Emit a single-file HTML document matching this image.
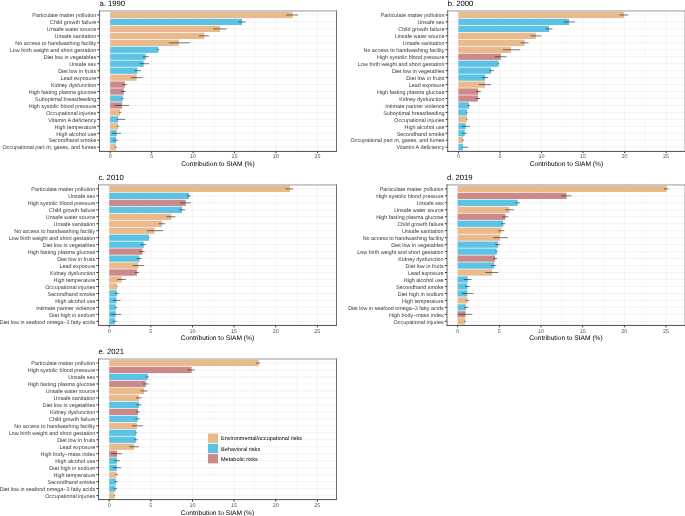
<!DOCTYPE html>
<html><head><meta charset="utf-8"><style>
html,body{margin:0;padding:0;background:#fff;width:685px;height:516px;overflow:hidden}
svg{display:block;will-change:transform}
text{font-family:"Liberation Sans", sans-serif;text-rendering:geometricPrecision}
</style></head><body>
<svg width="685" height="516" viewBox="0 0 685 516">
<rect width="685" height="516" fill="#fff"/>
<line x1="130.92" y1="10.8" x2="130.92" y2="151.4" stroke="#EBEBEB" stroke-width="0.3"/>
<line x1="172.38" y1="10.8" x2="172.38" y2="151.4" stroke="#EBEBEB" stroke-width="0.3"/>
<line x1="213.85" y1="10.8" x2="213.85" y2="151.4" stroke="#EBEBEB" stroke-width="0.3"/>
<line x1="255.32" y1="10.8" x2="255.32" y2="151.4" stroke="#EBEBEB" stroke-width="0.3"/>
<line x1="296.79" y1="10.8" x2="296.79" y2="151.4" stroke="#EBEBEB" stroke-width="0.3"/>
<line x1="110.18" y1="10.8" x2="110.18" y2="151.4" stroke="#EBEBEB" stroke-width="0.6"/>
<line x1="151.65" y1="10.8" x2="151.65" y2="151.4" stroke="#EBEBEB" stroke-width="0.6"/>
<line x1="193.12" y1="10.8" x2="193.12" y2="151.4" stroke="#EBEBEB" stroke-width="0.6"/>
<line x1="234.59" y1="10.8" x2="234.59" y2="151.4" stroke="#EBEBEB" stroke-width="0.6"/>
<line x1="276.06" y1="10.8" x2="276.06" y2="151.4" stroke="#EBEBEB" stroke-width="0.6"/>
<line x1="317.52" y1="10.8" x2="317.52" y2="151.4" stroke="#EBEBEB" stroke-width="0.6"/>
<line x1="99.4" y1="14.98" x2="336.6" y2="14.98" stroke="#EBEBEB" stroke-width="0.6"/>
<line x1="99.4" y1="21.94" x2="336.6" y2="21.94" stroke="#EBEBEB" stroke-width="0.6"/>
<line x1="99.4" y1="28.9" x2="336.6" y2="28.9" stroke="#EBEBEB" stroke-width="0.6"/>
<line x1="99.4" y1="35.86" x2="336.6" y2="35.86" stroke="#EBEBEB" stroke-width="0.6"/>
<line x1="99.4" y1="42.82" x2="336.6" y2="42.82" stroke="#EBEBEB" stroke-width="0.6"/>
<line x1="99.4" y1="49.78" x2="336.6" y2="49.78" stroke="#EBEBEB" stroke-width="0.6"/>
<line x1="99.4" y1="56.74" x2="336.6" y2="56.74" stroke="#EBEBEB" stroke-width="0.6"/>
<line x1="99.4" y1="63.7" x2="336.6" y2="63.7" stroke="#EBEBEB" stroke-width="0.6"/>
<line x1="99.4" y1="70.66" x2="336.6" y2="70.66" stroke="#EBEBEB" stroke-width="0.6"/>
<line x1="99.4" y1="77.62" x2="336.6" y2="77.62" stroke="#EBEBEB" stroke-width="0.6"/>
<line x1="99.4" y1="84.58" x2="336.6" y2="84.58" stroke="#EBEBEB" stroke-width="0.6"/>
<line x1="99.4" y1="91.54" x2="336.6" y2="91.54" stroke="#EBEBEB" stroke-width="0.6"/>
<line x1="99.4" y1="98.5" x2="336.6" y2="98.5" stroke="#EBEBEB" stroke-width="0.6"/>
<line x1="99.4" y1="105.46" x2="336.6" y2="105.46" stroke="#EBEBEB" stroke-width="0.6"/>
<line x1="99.4" y1="112.42" x2="336.6" y2="112.42" stroke="#EBEBEB" stroke-width="0.6"/>
<line x1="99.4" y1="119.38" x2="336.6" y2="119.38" stroke="#EBEBEB" stroke-width="0.6"/>
<line x1="99.4" y1="126.34" x2="336.6" y2="126.34" stroke="#EBEBEB" stroke-width="0.6"/>
<line x1="99.4" y1="133.3" x2="336.6" y2="133.3" stroke="#EBEBEB" stroke-width="0.6"/>
<line x1="99.4" y1="140.26" x2="336.6" y2="140.26" stroke="#EBEBEB" stroke-width="0.6"/>
<line x1="99.4" y1="147.22" x2="336.6" y2="147.22" stroke="#EBEBEB" stroke-width="0.6"/>
<rect x="110.18" y="11.84" width="182.46" height="6.26" fill="#E7B280" fill-opacity="0.9"/>
<rect x="110.18" y="18.8" width="131.87" height="6.26" fill="#4BBCE1" fill-opacity="0.9"/>
<rect x="110.18" y="25.76" width="109.89" height="6.26" fill="#E7B280" fill-opacity="0.9"/>
<rect x="110.18" y="32.73" width="94.13" height="6.26" fill="#E7B280" fill-opacity="0.9"/>
<rect x="110.18" y="39.69" width="68.67" height="6.26" fill="#E7B280" fill-opacity="0.9"/>
<rect x="110.18" y="46.65" width="48.19" height="6.26" fill="#4BBCE1" fill-opacity="0.9"/>
<rect x="110.18" y="53.61" width="35.58" height="6.26" fill="#4BBCE1" fill-opacity="0.9"/>
<rect x="110.18" y="60.57" width="33.51" height="6.26" fill="#4BBCE1" fill-opacity="0.9"/>
<rect x="110.18" y="67.53" width="27.2" height="6.26" fill="#4BBCE1" fill-opacity="0.9"/>
<rect x="110.18" y="74.49" width="26.54" height="6.26" fill="#E7B280" fill-opacity="0.9"/>
<rect x="110.18" y="81.45" width="14.6" height="6.26" fill="#C77C7D" fill-opacity="0.9"/>
<rect x="110.18" y="88.41" width="13.6" height="6.26" fill="#C77C7D" fill-opacity="0.9"/>
<rect x="110.18" y="95.37" width="12.52" height="6.26" fill="#4BBCE1" fill-opacity="0.9"/>
<rect x="110.18" y="102.33" width="11.86" height="6.26" fill="#C77C7D" fill-opacity="0.9"/>
<rect x="110.18" y="109.29" width="9.95" height="6.26" fill="#E7B280" fill-opacity="0.9"/>
<rect x="110.18" y="116.25" width="7.96" height="6.26" fill="#4BBCE1" fill-opacity="0.9"/>
<rect x="110.18" y="123.21" width="7.8" height="6.26" fill="#E7B280" fill-opacity="0.9"/>
<rect x="110.18" y="130.17" width="6.47" height="6.26" fill="#4BBCE1" fill-opacity="0.9"/>
<rect x="110.18" y="137.13" width="5.89" height="6.26" fill="#4BBCE1" fill-opacity="0.9"/>
<rect x="110.18" y="144.09" width="5.72" height="6.26" fill="#E7B280" fill-opacity="0.9"/>
<line x1="286.01" y1="14.98" x2="298.03" y2="14.98" stroke="#222" stroke-width="0.6"/>
<line x1="237.9" y1="21.94" x2="245.78" y2="21.94" stroke="#222" stroke-width="0.6"/>
<line x1="213.02" y1="28.9" x2="226.71" y2="28.9" stroke="#222" stroke-width="0.6"/>
<line x1="198.92" y1="35.86" x2="208.88" y2="35.86" stroke="#222" stroke-width="0.6"/>
<line x1="168.82" y1="42.82" x2="189.8" y2="42.82" stroke="#222" stroke-width="0.6"/>
<line x1="157.04" y1="49.78" x2="158.87" y2="49.78" stroke="#222" stroke-width="0.6"/>
<line x1="143.02" y1="56.74" x2="148.83" y2="56.74" stroke="#222" stroke-width="0.6"/>
<line x1="139.62" y1="63.7" x2="148.83" y2="63.7" stroke="#222" stroke-width="0.6"/>
<line x1="134.48" y1="70.66" x2="140.79" y2="70.66" stroke="#222" stroke-width="0.6"/>
<line x1="131.25" y1="77.62" x2="142.53" y2="77.62" stroke="#222" stroke-width="0.6"/>
<line x1="122.21" y1="84.58" x2="127.02" y2="84.58" stroke="#222" stroke-width="0.6"/>
<line x1="120.8" y1="91.54" x2="125.94" y2="91.54" stroke="#222" stroke-width="0.6"/>
<line x1="121.46" y1="98.5" x2="123.37" y2="98.5" stroke="#222" stroke-width="0.6"/>
<line x1="114.49" y1="105.46" x2="129.01" y2="105.46" stroke="#222" stroke-width="0.6"/>
<line x1="119.14" y1="112.42" x2="121.13" y2="112.42" stroke="#222" stroke-width="0.6"/>
<line x1="116.9" y1="119.38" x2="125.36" y2="119.38" stroke="#222" stroke-width="0.6"/>
<line x1="116.9" y1="126.34" x2="119.14" y2="126.34" stroke="#222" stroke-width="0.6"/>
<line x1="111.84" y1="133.3" x2="121.21" y2="133.3" stroke="#222" stroke-width="0.6"/>
<line x1="113.17" y1="140.26" x2="118.14" y2="140.26" stroke="#222" stroke-width="0.6"/>
<line x1="114.83" y1="147.22" x2="116.82" y2="147.22" stroke="#222" stroke-width="0.6"/>
<line x1="99.05" y1="10.95" x2="337" y2="10.95" stroke="#9A9A9A" stroke-width="1"/>
<line x1="336.5" y1="10.45" x2="336.5" y2="151.9" stroke="#707070" stroke-width="1"/>
<line x1="99.55" y1="10.45" x2="99.55" y2="151.9" stroke="#646464" stroke-width="1"/>
<line x1="99.05" y1="151.4" x2="337" y2="151.4" stroke="#4E4E4E" stroke-width="1"/>
<line x1="97.4" y1="14.98" x2="99.4" y2="14.98" stroke="#333333" stroke-width="1"/>
<text x="96.2" y="17.18" text-anchor="end" font-size="5.4" fill="#363636">Particulate matter pollution</text>
<line x1="97.4" y1="21.94" x2="99.4" y2="21.94" stroke="#333333" stroke-width="1"/>
<text x="96.2" y="24.14" text-anchor="end" font-size="5.4" fill="#363636">Child growth failure</text>
<line x1="97.4" y1="28.9" x2="99.4" y2="28.9" stroke="#333333" stroke-width="1"/>
<text x="96.2" y="31.1" text-anchor="end" font-size="5.4" fill="#363636">Unsafe water source</text>
<line x1="97.4" y1="35.86" x2="99.4" y2="35.86" stroke="#333333" stroke-width="1"/>
<text x="96.2" y="38.06" text-anchor="end" font-size="5.4" fill="#363636">Unsafe sanitation</text>
<line x1="97.4" y1="42.82" x2="99.4" y2="42.82" stroke="#333333" stroke-width="1"/>
<text x="96.2" y="45.02" text-anchor="end" font-size="5.4" fill="#363636">No access to handwashing facility</text>
<line x1="97.4" y1="49.78" x2="99.4" y2="49.78" stroke="#333333" stroke-width="1"/>
<text x="96.2" y="51.98" text-anchor="end" font-size="5.4" fill="#363636">Low birth weight and short gestation</text>
<line x1="97.4" y1="56.74" x2="99.4" y2="56.74" stroke="#333333" stroke-width="1"/>
<text x="96.2" y="58.94" text-anchor="end" font-size="5.4" fill="#363636">Diet low in vegetables</text>
<line x1="97.4" y1="63.7" x2="99.4" y2="63.7" stroke="#333333" stroke-width="1"/>
<text x="96.2" y="65.9" text-anchor="end" font-size="5.4" fill="#363636">Unsafe sex</text>
<line x1="97.4" y1="70.66" x2="99.4" y2="70.66" stroke="#333333" stroke-width="1"/>
<text x="96.2" y="72.86" text-anchor="end" font-size="5.4" fill="#363636">Diet low in fruits</text>
<line x1="97.4" y1="77.62" x2="99.4" y2="77.62" stroke="#333333" stroke-width="1"/>
<text x="96.2" y="79.82" text-anchor="end" font-size="5.4" fill="#363636">Lead exposure</text>
<line x1="97.4" y1="84.58" x2="99.4" y2="84.58" stroke="#333333" stroke-width="1"/>
<text x="96.2" y="86.78" text-anchor="end" font-size="5.4" fill="#363636">Kidney dysfunction</text>
<line x1="97.4" y1="91.54" x2="99.4" y2="91.54" stroke="#333333" stroke-width="1"/>
<text x="96.2" y="93.74" text-anchor="end" font-size="5.4" fill="#363636">High fasting plasma glucose</text>
<line x1="97.4" y1="98.5" x2="99.4" y2="98.5" stroke="#333333" stroke-width="1"/>
<text x="96.2" y="100.7" text-anchor="end" font-size="5.4" fill="#363636">Suboptimal breastfeeding</text>
<line x1="97.4" y1="105.46" x2="99.4" y2="105.46" stroke="#333333" stroke-width="1"/>
<text x="96.2" y="107.66" text-anchor="end" font-size="5.4" fill="#363636">High systolic blood pressure</text>
<line x1="97.4" y1="112.42" x2="99.4" y2="112.42" stroke="#333333" stroke-width="1"/>
<text x="96.2" y="114.62" text-anchor="end" font-size="5.4" fill="#363636">Occupational injuries</text>
<line x1="97.4" y1="119.38" x2="99.4" y2="119.38" stroke="#333333" stroke-width="1"/>
<text x="96.2" y="121.58" text-anchor="end" font-size="5.4" fill="#363636">Vitamin A deficiency</text>
<line x1="97.4" y1="126.34" x2="99.4" y2="126.34" stroke="#333333" stroke-width="1"/>
<text x="96.2" y="128.54" text-anchor="end" font-size="5.4" fill="#363636">High temperature</text>
<line x1="97.4" y1="133.3" x2="99.4" y2="133.3" stroke="#333333" stroke-width="1"/>
<text x="96.2" y="135.5" text-anchor="end" font-size="5.4" fill="#363636">High alcohol use</text>
<line x1="97.4" y1="140.26" x2="99.4" y2="140.26" stroke="#333333" stroke-width="1"/>
<text x="96.2" y="142.46" text-anchor="end" font-size="5.4" fill="#363636">Secondhand smoke</text>
<line x1="97.4" y1="147.22" x2="99.4" y2="147.22" stroke="#333333" stroke-width="1"/>
<text x="96.2" y="149.42" text-anchor="end" font-size="5.4" fill="#363636">Occupational part m, gases, and fumes</text>
<line x1="110.18" y1="151.4" x2="110.18" y2="153.2" stroke="#333333" stroke-width="1"/>
<text x="110.18" y="158.4" text-anchor="middle" font-size="5.4" fill="#4D4D4D">0</text>
<line x1="151.65" y1="151.4" x2="151.65" y2="153.2" stroke="#333333" stroke-width="1"/>
<text x="151.65" y="158.4" text-anchor="middle" font-size="5.4" fill="#4D4D4D">5</text>
<line x1="193.12" y1="151.4" x2="193.12" y2="153.2" stroke="#333333" stroke-width="1"/>
<text x="193.12" y="158.4" text-anchor="middle" font-size="5.4" fill="#4D4D4D">10</text>
<line x1="234.59" y1="151.4" x2="234.59" y2="153.2" stroke="#333333" stroke-width="1"/>
<text x="234.59" y="158.4" text-anchor="middle" font-size="5.4" fill="#4D4D4D">15</text>
<line x1="276.06" y1="151.4" x2="276.06" y2="153.2" stroke="#333333" stroke-width="1"/>
<text x="276.06" y="158.4" text-anchor="middle" font-size="5.4" fill="#4D4D4D">20</text>
<line x1="317.52" y1="151.4" x2="317.52" y2="153.2" stroke="#333333" stroke-width="1"/>
<text x="317.52" y="158.4" text-anchor="middle" font-size="5.4" fill="#4D4D4D">25</text>
<text x="218" y="166.3" text-anchor="middle" font-size="6.65" fill="#000">Contribution to SIAM (%)</text>
<text x="99.5" y="5.9" font-size="7.7" fill="#000">a. 1990</text>
<line x1="479.17" y1="10.8" x2="479.17" y2="151.4" stroke="#EBEBEB" stroke-width="0.3"/>
<line x1="520.71" y1="10.8" x2="520.71" y2="151.4" stroke="#EBEBEB" stroke-width="0.3"/>
<line x1="562.25" y1="10.8" x2="562.25" y2="151.4" stroke="#EBEBEB" stroke-width="0.3"/>
<line x1="603.78" y1="10.8" x2="603.78" y2="151.4" stroke="#EBEBEB" stroke-width="0.3"/>
<line x1="645.32" y1="10.8" x2="645.32" y2="151.4" stroke="#EBEBEB" stroke-width="0.3"/>
<line x1="458.4" y1="10.8" x2="458.4" y2="151.4" stroke="#EBEBEB" stroke-width="0.6"/>
<line x1="499.94" y1="10.8" x2="499.94" y2="151.4" stroke="#EBEBEB" stroke-width="0.6"/>
<line x1="541.48" y1="10.8" x2="541.48" y2="151.4" stroke="#EBEBEB" stroke-width="0.6"/>
<line x1="583.02" y1="10.8" x2="583.02" y2="151.4" stroke="#EBEBEB" stroke-width="0.6"/>
<line x1="624.55" y1="10.8" x2="624.55" y2="151.4" stroke="#EBEBEB" stroke-width="0.6"/>
<line x1="666.09" y1="10.8" x2="666.09" y2="151.4" stroke="#EBEBEB" stroke-width="0.6"/>
<line x1="447.6" y1="14.98" x2="685.2" y2="14.98" stroke="#EBEBEB" stroke-width="0.6"/>
<line x1="447.6" y1="21.94" x2="685.2" y2="21.94" stroke="#EBEBEB" stroke-width="0.6"/>
<line x1="447.6" y1="28.9" x2="685.2" y2="28.9" stroke="#EBEBEB" stroke-width="0.6"/>
<line x1="447.6" y1="35.86" x2="685.2" y2="35.86" stroke="#EBEBEB" stroke-width="0.6"/>
<line x1="447.6" y1="42.82" x2="685.2" y2="42.82" stroke="#EBEBEB" stroke-width="0.6"/>
<line x1="447.6" y1="49.78" x2="685.2" y2="49.78" stroke="#EBEBEB" stroke-width="0.6"/>
<line x1="447.6" y1="56.74" x2="685.2" y2="56.74" stroke="#EBEBEB" stroke-width="0.6"/>
<line x1="447.6" y1="63.7" x2="685.2" y2="63.7" stroke="#EBEBEB" stroke-width="0.6"/>
<line x1="447.6" y1="70.66" x2="685.2" y2="70.66" stroke="#EBEBEB" stroke-width="0.6"/>
<line x1="447.6" y1="77.62" x2="685.2" y2="77.62" stroke="#EBEBEB" stroke-width="0.6"/>
<line x1="447.6" y1="84.58" x2="685.2" y2="84.58" stroke="#EBEBEB" stroke-width="0.6"/>
<line x1="447.6" y1="91.54" x2="685.2" y2="91.54" stroke="#EBEBEB" stroke-width="0.6"/>
<line x1="447.6" y1="98.5" x2="685.2" y2="98.5" stroke="#EBEBEB" stroke-width="0.6"/>
<line x1="447.6" y1="105.46" x2="685.2" y2="105.46" stroke="#EBEBEB" stroke-width="0.6"/>
<line x1="447.6" y1="112.42" x2="685.2" y2="112.42" stroke="#EBEBEB" stroke-width="0.6"/>
<line x1="447.6" y1="119.38" x2="685.2" y2="119.38" stroke="#EBEBEB" stroke-width="0.6"/>
<line x1="447.6" y1="126.34" x2="685.2" y2="126.34" stroke="#EBEBEB" stroke-width="0.6"/>
<line x1="447.6" y1="133.3" x2="685.2" y2="133.3" stroke="#EBEBEB" stroke-width="0.6"/>
<line x1="447.6" y1="140.26" x2="685.2" y2="140.26" stroke="#EBEBEB" stroke-width="0.6"/>
<line x1="447.6" y1="147.22" x2="685.2" y2="147.22" stroke="#EBEBEB" stroke-width="0.6"/>
<rect x="458.4" y="11.84" width="165.66" height="6.26" fill="#E7B280" fill-opacity="0.9"/>
<rect x="458.4" y="18.8" width="110.66" height="6.26" fill="#4BBCE1" fill-opacity="0.9"/>
<rect x="458.4" y="25.76" width="90.64" height="6.26" fill="#4BBCE1" fill-opacity="0.9"/>
<rect x="458.4" y="32.73" width="77.51" height="6.26" fill="#E7B280" fill-opacity="0.9"/>
<rect x="458.4" y="39.69" width="66.21" height="6.26" fill="#E7B280" fill-opacity="0.9"/>
<rect x="458.4" y="46.65" width="52.5" height="6.26" fill="#E7B280" fill-opacity="0.9"/>
<rect x="458.4" y="53.61" width="42.45" height="6.26" fill="#C77C7D" fill-opacity="0.9"/>
<rect x="458.4" y="60.57" width="40.21" height="6.26" fill="#4BBCE1" fill-opacity="0.9"/>
<rect x="458.4" y="67.53" width="32.73" height="6.26" fill="#4BBCE1" fill-opacity="0.9"/>
<rect x="458.4" y="74.49" width="26.75" height="6.26" fill="#4BBCE1" fill-opacity="0.9"/>
<rect x="458.4" y="81.45" width="26.75" height="6.26" fill="#E7B280" fill-opacity="0.9"/>
<rect x="458.4" y="88.41" width="19.86" height="6.26" fill="#C77C7D" fill-opacity="0.9"/>
<rect x="458.4" y="95.37" width="19.52" height="6.26" fill="#C77C7D" fill-opacity="0.9"/>
<rect x="458.4" y="102.33" width="10.47" height="6.26" fill="#4BBCE1" fill-opacity="0.9"/>
<rect x="458.4" y="109.29" width="8.64" height="6.26" fill="#4BBCE1" fill-opacity="0.9"/>
<rect x="458.4" y="116.25" width="8.47" height="6.26" fill="#E7B280" fill-opacity="0.9"/>
<rect x="458.4" y="123.21" width="7.31" height="6.26" fill="#4BBCE1" fill-opacity="0.9"/>
<rect x="458.4" y="130.17" width="6.31" height="6.26" fill="#4BBCE1" fill-opacity="0.9"/>
<rect x="458.4" y="137.13" width="4.57" height="6.26" fill="#E7B280" fill-opacity="0.9"/>
<rect x="458.4" y="144.09" width="4.49" height="6.26" fill="#4BBCE1" fill-opacity="0.9"/>
<line x1="619.57" y1="14.98" x2="628.29" y2="14.98" stroke="#222" stroke-width="0.6"/>
<line x1="563.58" y1="21.94" x2="574.87" y2="21.94" stroke="#222" stroke-width="0.6"/>
<line x1="545.63" y1="28.9" x2="552.44" y2="28.9" stroke="#222" stroke-width="0.6"/>
<line x1="530.43" y1="35.86" x2="541.14" y2="35.86" stroke="#222" stroke-width="0.6"/>
<line x1="520.62" y1="42.82" x2="528.52" y2="42.82" stroke="#222" stroke-width="0.6"/>
<line x1="503.01" y1="49.78" x2="520.13" y2="49.78" stroke="#222" stroke-width="0.6"/>
<line x1="494.87" y1="56.74" x2="506.5" y2="56.74" stroke="#222" stroke-width="0.6"/>
<line x1="497.86" y1="63.7" x2="499.11" y2="63.7" stroke="#222" stroke-width="0.6"/>
<line x1="489.06" y1="70.66" x2="494.04" y2="70.66" stroke="#222" stroke-width="0.6"/>
<line x1="481.91" y1="77.62" x2="488.06" y2="77.62" stroke="#222" stroke-width="0.6"/>
<line x1="478.92" y1="84.58" x2="490.88" y2="84.58" stroke="#222" stroke-width="0.6"/>
<line x1="476.1" y1="91.54" x2="480.83" y2="91.54" stroke="#222" stroke-width="0.6"/>
<line x1="475.76" y1="98.5" x2="480" y2="98.5" stroke="#222" stroke-width="0.6"/>
<line x1="467.46" y1="105.46" x2="470.03" y2="105.46" stroke="#222" stroke-width="0.6"/>
<line x1="466.21" y1="112.42" x2="467.62" y2="112.42" stroke="#222" stroke-width="0.6"/>
<line x1="466.04" y1="119.38" x2="467.29" y2="119.38" stroke="#222" stroke-width="0.6"/>
<line x1="461.72" y1="126.34" x2="470.03" y2="126.34" stroke="#222" stroke-width="0.6"/>
<line x1="462.39" y1="133.3" x2="466.87" y2="133.3" stroke="#222" stroke-width="0.6"/>
<line x1="462.14" y1="140.26" x2="463.88" y2="140.26" stroke="#222" stroke-width="0.6"/>
<line x1="461.72" y1="147.22" x2="468.2" y2="147.22" stroke="#222" stroke-width="0.6"/>
<line x1="447.2" y1="10.95" x2="685.7" y2="10.95" stroke="#9A9A9A" stroke-width="1"/>
<line x1="685.2" y1="10.45" x2="685.2" y2="151.9" stroke="#707070" stroke-width="1"/>
<line x1="447.7" y1="10.45" x2="447.7" y2="151.9" stroke="#646464" stroke-width="1"/>
<line x1="447.2" y1="151.4" x2="685.7" y2="151.4" stroke="#4E4E4E" stroke-width="1"/>
<line x1="445.6" y1="14.98" x2="447.6" y2="14.98" stroke="#333333" stroke-width="1"/>
<text x="444.4" y="17.18" text-anchor="end" font-size="5.4" fill="#363636">Particulate matter pollution</text>
<line x1="445.6" y1="21.94" x2="447.6" y2="21.94" stroke="#333333" stroke-width="1"/>
<text x="444.4" y="24.14" text-anchor="end" font-size="5.4" fill="#363636">Unsafe sex</text>
<line x1="445.6" y1="28.9" x2="447.6" y2="28.9" stroke="#333333" stroke-width="1"/>
<text x="444.4" y="31.1" text-anchor="end" font-size="5.4" fill="#363636">Child growth failure</text>
<line x1="445.6" y1="35.86" x2="447.6" y2="35.86" stroke="#333333" stroke-width="1"/>
<text x="444.4" y="38.06" text-anchor="end" font-size="5.4" fill="#363636">Unsafe water source</text>
<line x1="445.6" y1="42.82" x2="447.6" y2="42.82" stroke="#333333" stroke-width="1"/>
<text x="444.4" y="45.02" text-anchor="end" font-size="5.4" fill="#363636">Unsafe sanitation</text>
<line x1="445.6" y1="49.78" x2="447.6" y2="49.78" stroke="#333333" stroke-width="1"/>
<text x="444.4" y="51.98" text-anchor="end" font-size="5.4" fill="#363636">No access to handwashing facility</text>
<line x1="445.6" y1="56.74" x2="447.6" y2="56.74" stroke="#333333" stroke-width="1"/>
<text x="444.4" y="58.94" text-anchor="end" font-size="5.4" fill="#363636">High systolic blood pressure</text>
<line x1="445.6" y1="63.7" x2="447.6" y2="63.7" stroke="#333333" stroke-width="1"/>
<text x="444.4" y="65.9" text-anchor="end" font-size="5.4" fill="#363636">Low birth weight and short gestation</text>
<line x1="445.6" y1="70.66" x2="447.6" y2="70.66" stroke="#333333" stroke-width="1"/>
<text x="444.4" y="72.86" text-anchor="end" font-size="5.4" fill="#363636">Diet low in vegetables</text>
<line x1="445.6" y1="77.62" x2="447.6" y2="77.62" stroke="#333333" stroke-width="1"/>
<text x="444.4" y="79.82" text-anchor="end" font-size="5.4" fill="#363636">Diet low in fruits</text>
<line x1="445.6" y1="84.58" x2="447.6" y2="84.58" stroke="#333333" stroke-width="1"/>
<text x="444.4" y="86.78" text-anchor="end" font-size="5.4" fill="#363636">Lead exposure</text>
<line x1="445.6" y1="91.54" x2="447.6" y2="91.54" stroke="#333333" stroke-width="1"/>
<text x="444.4" y="93.74" text-anchor="end" font-size="5.4" fill="#363636">High fasting plasma glucose</text>
<line x1="445.6" y1="98.5" x2="447.6" y2="98.5" stroke="#333333" stroke-width="1"/>
<text x="444.4" y="100.7" text-anchor="end" font-size="5.4" fill="#363636">Kidney dysfunction</text>
<line x1="445.6" y1="105.46" x2="447.6" y2="105.46" stroke="#333333" stroke-width="1"/>
<text x="444.4" y="107.66" text-anchor="end" font-size="5.4" fill="#363636">Intimate partner violence</text>
<line x1="445.6" y1="112.42" x2="447.6" y2="112.42" stroke="#333333" stroke-width="1"/>
<text x="444.4" y="114.62" text-anchor="end" font-size="5.4" fill="#363636">Suboptimal breastfeeding</text>
<line x1="445.6" y1="119.38" x2="447.6" y2="119.38" stroke="#333333" stroke-width="1"/>
<text x="444.4" y="121.58" text-anchor="end" font-size="5.4" fill="#363636">Occupational injuries</text>
<line x1="445.6" y1="126.34" x2="447.6" y2="126.34" stroke="#333333" stroke-width="1"/>
<text x="444.4" y="128.54" text-anchor="end" font-size="5.4" fill="#363636">High alcohol use</text>
<line x1="445.6" y1="133.3" x2="447.6" y2="133.3" stroke="#333333" stroke-width="1"/>
<text x="444.4" y="135.5" text-anchor="end" font-size="5.4" fill="#363636">Secondhand smoke</text>
<line x1="445.6" y1="140.26" x2="447.6" y2="140.26" stroke="#333333" stroke-width="1"/>
<text x="444.4" y="142.46" text-anchor="end" font-size="5.4" fill="#363636">Occupational part m, gases, and fumes</text>
<line x1="445.6" y1="147.22" x2="447.6" y2="147.22" stroke="#333333" stroke-width="1"/>
<text x="444.4" y="149.42" text-anchor="end" font-size="5.4" fill="#363636">Vitamin A deficiency</text>
<line x1="458.4" y1="151.4" x2="458.4" y2="153.2" stroke="#333333" stroke-width="1"/>
<text x="458.4" y="158.4" text-anchor="middle" font-size="5.4" fill="#4D4D4D">0</text>
<line x1="499.94" y1="151.4" x2="499.94" y2="153.2" stroke="#333333" stroke-width="1"/>
<text x="499.94" y="158.4" text-anchor="middle" font-size="5.4" fill="#4D4D4D">5</text>
<line x1="541.48" y1="151.4" x2="541.48" y2="153.2" stroke="#333333" stroke-width="1"/>
<text x="541.48" y="158.4" text-anchor="middle" font-size="5.4" fill="#4D4D4D">10</text>
<line x1="583.02" y1="151.4" x2="583.02" y2="153.2" stroke="#333333" stroke-width="1"/>
<text x="583.02" y="158.4" text-anchor="middle" font-size="5.4" fill="#4D4D4D">15</text>
<line x1="624.55" y1="151.4" x2="624.55" y2="153.2" stroke="#333333" stroke-width="1"/>
<text x="624.55" y="158.4" text-anchor="middle" font-size="5.4" fill="#4D4D4D">20</text>
<line x1="666.09" y1="151.4" x2="666.09" y2="153.2" stroke="#333333" stroke-width="1"/>
<text x="666.09" y="158.4" text-anchor="middle" font-size="5.4" fill="#4D4D4D">25</text>
<text x="566.4" y="166.3" text-anchor="middle" font-size="6.65" fill="#000">Contribution to SIAM (%)</text>
<text x="447.7" y="5.9" font-size="7.7" fill="#000">b. 2000</text>
<line x1="130.04" y1="184.7" x2="130.04" y2="325.5" stroke="#EBEBEB" stroke-width="0.3"/>
<line x1="171.66" y1="184.7" x2="171.66" y2="325.5" stroke="#EBEBEB" stroke-width="0.3"/>
<line x1="213.29" y1="184.7" x2="213.29" y2="325.5" stroke="#EBEBEB" stroke-width="0.3"/>
<line x1="254.91" y1="184.7" x2="254.91" y2="325.5" stroke="#EBEBEB" stroke-width="0.3"/>
<line x1="296.54" y1="184.7" x2="296.54" y2="325.5" stroke="#EBEBEB" stroke-width="0.3"/>
<line x1="109.22" y1="184.7" x2="109.22" y2="325.5" stroke="#EBEBEB" stroke-width="0.6"/>
<line x1="150.85" y1="184.7" x2="150.85" y2="325.5" stroke="#EBEBEB" stroke-width="0.6"/>
<line x1="192.47" y1="184.7" x2="192.47" y2="325.5" stroke="#EBEBEB" stroke-width="0.6"/>
<line x1="234.1" y1="184.7" x2="234.1" y2="325.5" stroke="#EBEBEB" stroke-width="0.6"/>
<line x1="275.73" y1="184.7" x2="275.73" y2="325.5" stroke="#EBEBEB" stroke-width="0.6"/>
<line x1="317.35" y1="184.7" x2="317.35" y2="325.5" stroke="#EBEBEB" stroke-width="0.6"/>
<line x1="98.4" y1="188.88" x2="336.5" y2="188.88" stroke="#EBEBEB" stroke-width="0.6"/>
<line x1="98.4" y1="195.85" x2="336.5" y2="195.85" stroke="#EBEBEB" stroke-width="0.6"/>
<line x1="98.4" y1="202.82" x2="336.5" y2="202.82" stroke="#EBEBEB" stroke-width="0.6"/>
<line x1="98.4" y1="209.79" x2="336.5" y2="209.79" stroke="#EBEBEB" stroke-width="0.6"/>
<line x1="98.4" y1="216.76" x2="336.5" y2="216.76" stroke="#EBEBEB" stroke-width="0.6"/>
<line x1="98.4" y1="223.73" x2="336.5" y2="223.73" stroke="#EBEBEB" stroke-width="0.6"/>
<line x1="98.4" y1="230.7" x2="336.5" y2="230.7" stroke="#EBEBEB" stroke-width="0.6"/>
<line x1="98.4" y1="237.67" x2="336.5" y2="237.67" stroke="#EBEBEB" stroke-width="0.6"/>
<line x1="98.4" y1="244.64" x2="336.5" y2="244.64" stroke="#EBEBEB" stroke-width="0.6"/>
<line x1="98.4" y1="251.61" x2="336.5" y2="251.61" stroke="#EBEBEB" stroke-width="0.6"/>
<line x1="98.4" y1="258.59" x2="336.5" y2="258.59" stroke="#EBEBEB" stroke-width="0.6"/>
<line x1="98.4" y1="265.56" x2="336.5" y2="265.56" stroke="#EBEBEB" stroke-width="0.6"/>
<line x1="98.4" y1="272.53" x2="336.5" y2="272.53" stroke="#EBEBEB" stroke-width="0.6"/>
<line x1="98.4" y1="279.5" x2="336.5" y2="279.5" stroke="#EBEBEB" stroke-width="0.6"/>
<line x1="98.4" y1="286.47" x2="336.5" y2="286.47" stroke="#EBEBEB" stroke-width="0.6"/>
<line x1="98.4" y1="293.44" x2="336.5" y2="293.44" stroke="#EBEBEB" stroke-width="0.6"/>
<line x1="98.4" y1="300.41" x2="336.5" y2="300.41" stroke="#EBEBEB" stroke-width="0.6"/>
<line x1="98.4" y1="307.38" x2="336.5" y2="307.38" stroke="#EBEBEB" stroke-width="0.6"/>
<line x1="98.4" y1="314.35" x2="336.5" y2="314.35" stroke="#EBEBEB" stroke-width="0.6"/>
<line x1="98.4" y1="321.32" x2="336.5" y2="321.32" stroke="#EBEBEB" stroke-width="0.6"/>
<rect x="109.22" y="185.75" width="180.66" height="6.27" fill="#E7B280" fill-opacity="0.9"/>
<rect x="109.22" y="192.72" width="79.92" height="6.27" fill="#4BBCE1" fill-opacity="0.9"/>
<rect x="109.22" y="199.69" width="76.51" height="6.27" fill="#C77C7D" fill-opacity="0.9"/>
<rect x="109.22" y="206.66" width="72.85" height="6.27" fill="#4BBCE1" fill-opacity="0.9"/>
<rect x="109.22" y="213.63" width="62.11" height="6.27" fill="#E7B280" fill-opacity="0.9"/>
<rect x="109.22" y="220.6" width="52.86" height="6.27" fill="#E7B280" fill-opacity="0.9"/>
<rect x="109.22" y="227.57" width="45.21" height="6.27" fill="#E7B280" fill-opacity="0.9"/>
<rect x="109.22" y="234.54" width="39.71" height="6.27" fill="#4BBCE1" fill-opacity="0.9"/>
<rect x="109.22" y="241.51" width="34.55" height="6.27" fill="#4BBCE1" fill-opacity="0.9"/>
<rect x="109.22" y="248.48" width="33.13" height="6.27" fill="#C77C7D" fill-opacity="0.9"/>
<rect x="109.22" y="255.45" width="30.3" height="6.27" fill="#4BBCE1" fill-opacity="0.9"/>
<rect x="109.22" y="262.42" width="29.14" height="6.27" fill="#E7B280" fill-opacity="0.9"/>
<rect x="109.22" y="269.39" width="27.72" height="6.27" fill="#C77C7D" fill-opacity="0.9"/>
<rect x="109.22" y="276.36" width="12.4" height="6.27" fill="#E7B280" fill-opacity="0.9"/>
<rect x="109.22" y="283.33" width="7.74" height="6.27" fill="#E7B280" fill-opacity="0.9"/>
<rect x="109.22" y="290.3" width="7.66" height="6.27" fill="#4BBCE1" fill-opacity="0.9"/>
<rect x="109.22" y="297.27" width="7.16" height="6.27" fill="#4BBCE1" fill-opacity="0.9"/>
<rect x="109.22" y="304.24" width="6.58" height="6.27" fill="#4BBCE1" fill-opacity="0.9"/>
<rect x="109.22" y="311.21" width="6.49" height="6.27" fill="#4BBCE1" fill-opacity="0.9"/>
<rect x="109.22" y="318.18" width="5.58" height="6.27" fill="#4BBCE1" fill-opacity="0.9"/>
<line x1="285.72" y1="188.88" x2="293.21" y2="188.88" stroke="#222" stroke-width="0.6"/>
<line x1="186.65" y1="195.85" x2="190.81" y2="195.85" stroke="#222" stroke-width="0.6"/>
<line x1="179.99" y1="202.82" x2="190.81" y2="202.82" stroke="#222" stroke-width="0.6"/>
<line x1="179.15" y1="209.79" x2="184.98" y2="209.79" stroke="#222" stroke-width="0.6"/>
<line x1="166.33" y1="216.76" x2="175.49" y2="216.76" stroke="#222" stroke-width="0.6"/>
<line x1="158.67" y1="223.73" x2="164.92" y2="223.73" stroke="#222" stroke-width="0.6"/>
<line x1="147.1" y1="230.7" x2="163.09" y2="230.7" stroke="#222" stroke-width="0.6"/>
<line x1="148.35" y1="237.67" x2="149.43" y2="237.67" stroke="#222" stroke-width="0.6"/>
<line x1="140.53" y1="244.64" x2="145.85" y2="244.64" stroke="#222" stroke-width="0.6"/>
<line x1="139.19" y1="251.61" x2="144.52" y2="251.61" stroke="#222" stroke-width="0.6"/>
<line x1="136.53" y1="258.59" x2="141.69" y2="258.59" stroke="#222" stroke-width="0.6"/>
<line x1="132.78" y1="265.56" x2="144.27" y2="265.56" stroke="#222" stroke-width="0.6"/>
<line x1="134.78" y1="272.53" x2="139.03" y2="272.53" stroke="#222" stroke-width="0.6"/>
<line x1="117.13" y1="279.5" x2="125.87" y2="279.5" stroke="#222" stroke-width="0.6"/>
<line x1="116.38" y1="286.47" x2="117.55" y2="286.47" stroke="#222" stroke-width="0.6"/>
<line x1="114.97" y1="293.44" x2="118.71" y2="293.44" stroke="#222" stroke-width="0.6"/>
<line x1="112.8" y1="300.41" x2="120.46" y2="300.41" stroke="#222" stroke-width="0.6"/>
<line x1="115.05" y1="307.38" x2="117.21" y2="307.38" stroke="#222" stroke-width="0.6"/>
<line x1="110.64" y1="314.35" x2="121.13" y2="314.35" stroke="#222" stroke-width="0.6"/>
<line x1="112.8" y1="321.32" x2="116.97" y2="321.32" stroke="#222" stroke-width="0.6"/>
<line x1="98" y1="184.95" x2="337" y2="184.95" stroke="#9A9A9A" stroke-width="1"/>
<line x1="336.5" y1="184.45" x2="336.5" y2="325.95" stroke="#707070" stroke-width="1"/>
<line x1="98.5" y1="184.45" x2="98.5" y2="325.95" stroke="#646464" stroke-width="1"/>
<line x1="98" y1="325.45" x2="337" y2="325.45" stroke="#4E4E4E" stroke-width="1"/>
<line x1="96.4" y1="188.88" x2="98.4" y2="188.88" stroke="#333333" stroke-width="1"/>
<text x="95.2" y="191.08" text-anchor="end" font-size="5.4" fill="#363636">Particulate matter pollution</text>
<line x1="96.4" y1="195.85" x2="98.4" y2="195.85" stroke="#333333" stroke-width="1"/>
<text x="95.2" y="198.05" text-anchor="end" font-size="5.4" fill="#363636">Unsafe sex</text>
<line x1="96.4" y1="202.82" x2="98.4" y2="202.82" stroke="#333333" stroke-width="1"/>
<text x="95.2" y="205.02" text-anchor="end" font-size="5.4" fill="#363636">High systolic blood pressure</text>
<line x1="96.4" y1="209.79" x2="98.4" y2="209.79" stroke="#333333" stroke-width="1"/>
<text x="95.2" y="211.99" text-anchor="end" font-size="5.4" fill="#363636">Child growth failure</text>
<line x1="96.4" y1="216.76" x2="98.4" y2="216.76" stroke="#333333" stroke-width="1"/>
<text x="95.2" y="218.96" text-anchor="end" font-size="5.4" fill="#363636">Unsafe water source</text>
<line x1="96.4" y1="223.73" x2="98.4" y2="223.73" stroke="#333333" stroke-width="1"/>
<text x="95.2" y="225.93" text-anchor="end" font-size="5.4" fill="#363636">Unsafe sanitation</text>
<line x1="96.4" y1="230.7" x2="98.4" y2="230.7" stroke="#333333" stroke-width="1"/>
<text x="95.2" y="232.9" text-anchor="end" font-size="5.4" fill="#363636">No access to handwashing facility</text>
<line x1="96.4" y1="237.67" x2="98.4" y2="237.67" stroke="#333333" stroke-width="1"/>
<text x="95.2" y="239.87" text-anchor="end" font-size="5.4" fill="#363636">Low birth weight and short gestation</text>
<line x1="96.4" y1="244.64" x2="98.4" y2="244.64" stroke="#333333" stroke-width="1"/>
<text x="95.2" y="246.84" text-anchor="end" font-size="5.4" fill="#363636">Diet low in vegetables</text>
<line x1="96.4" y1="251.61" x2="98.4" y2="251.61" stroke="#333333" stroke-width="1"/>
<text x="95.2" y="253.81" text-anchor="end" font-size="5.4" fill="#363636">High fasting plasma glucose</text>
<line x1="96.4" y1="258.59" x2="98.4" y2="258.59" stroke="#333333" stroke-width="1"/>
<text x="95.2" y="260.79" text-anchor="end" font-size="5.4" fill="#363636">Diet low in fruits</text>
<line x1="96.4" y1="265.56" x2="98.4" y2="265.56" stroke="#333333" stroke-width="1"/>
<text x="95.2" y="267.76" text-anchor="end" font-size="5.4" fill="#363636">Lead exposure</text>
<line x1="96.4" y1="272.53" x2="98.4" y2="272.53" stroke="#333333" stroke-width="1"/>
<text x="95.2" y="274.73" text-anchor="end" font-size="5.4" fill="#363636">Kidney dysfunction</text>
<line x1="96.4" y1="279.5" x2="98.4" y2="279.5" stroke="#333333" stroke-width="1"/>
<text x="95.2" y="281.7" text-anchor="end" font-size="5.4" fill="#363636">High temperature</text>
<line x1="96.4" y1="286.47" x2="98.4" y2="286.47" stroke="#333333" stroke-width="1"/>
<text x="95.2" y="288.67" text-anchor="end" font-size="5.4" fill="#363636">Occupational injuries</text>
<line x1="96.4" y1="293.44" x2="98.4" y2="293.44" stroke="#333333" stroke-width="1"/>
<text x="95.2" y="295.64" text-anchor="end" font-size="5.4" fill="#363636">Secondhand smoke</text>
<line x1="96.4" y1="300.41" x2="98.4" y2="300.41" stroke="#333333" stroke-width="1"/>
<text x="95.2" y="302.61" text-anchor="end" font-size="5.4" fill="#363636">High alcohol use</text>
<line x1="96.4" y1="307.38" x2="98.4" y2="307.38" stroke="#333333" stroke-width="1"/>
<text x="95.2" y="309.58" text-anchor="end" font-size="5.4" fill="#363636">Intimate partner violence</text>
<line x1="96.4" y1="314.35" x2="98.4" y2="314.35" stroke="#333333" stroke-width="1"/>
<text x="95.2" y="316.55" text-anchor="end" font-size="5.4" fill="#363636">Diet high in sodium</text>
<line x1="96.4" y1="321.32" x2="98.4" y2="321.32" stroke="#333333" stroke-width="1"/>
<text x="95.2" y="323.52" text-anchor="end" font-size="5.4" fill="#363636">Diet low in seafood omega−3 fatty acids</text>
<line x1="109.22" y1="325.5" x2="109.22" y2="327.3" stroke="#333333" stroke-width="1"/>
<text x="109.22" y="332.5" text-anchor="middle" font-size="5.4" fill="#4D4D4D">0</text>
<line x1="150.85" y1="325.5" x2="150.85" y2="327.3" stroke="#333333" stroke-width="1"/>
<text x="150.85" y="332.5" text-anchor="middle" font-size="5.4" fill="#4D4D4D">5</text>
<line x1="192.47" y1="325.5" x2="192.47" y2="327.3" stroke="#333333" stroke-width="1"/>
<text x="192.47" y="332.5" text-anchor="middle" font-size="5.4" fill="#4D4D4D">10</text>
<line x1="234.1" y1="325.5" x2="234.1" y2="327.3" stroke="#333333" stroke-width="1"/>
<text x="234.1" y="332.5" text-anchor="middle" font-size="5.4" fill="#4D4D4D">15</text>
<line x1="275.73" y1="325.5" x2="275.73" y2="327.3" stroke="#333333" stroke-width="1"/>
<text x="275.73" y="332.5" text-anchor="middle" font-size="5.4" fill="#4D4D4D">20</text>
<line x1="317.35" y1="325.5" x2="317.35" y2="327.3" stroke="#333333" stroke-width="1"/>
<text x="317.35" y="332.5" text-anchor="middle" font-size="5.4" fill="#4D4D4D">25</text>
<text x="217.45" y="340.4" text-anchor="middle" font-size="6.65" fill="#000">Contribution to SIAM (%)</text>
<text x="98.5" y="179.8" font-size="7.7" fill="#000">c. 2010</text>
<line x1="478.48" y1="184.7" x2="478.48" y2="325.5" stroke="#EBEBEB" stroke-width="0.3"/>
<line x1="520.15" y1="184.7" x2="520.15" y2="325.5" stroke="#EBEBEB" stroke-width="0.3"/>
<line x1="561.83" y1="184.7" x2="561.83" y2="325.5" stroke="#EBEBEB" stroke-width="0.3"/>
<line x1="603.51" y1="184.7" x2="603.51" y2="325.5" stroke="#EBEBEB" stroke-width="0.3"/>
<line x1="645.19" y1="184.7" x2="645.19" y2="325.5" stroke="#EBEBEB" stroke-width="0.3"/>
<line x1="457.64" y1="184.7" x2="457.64" y2="325.5" stroke="#EBEBEB" stroke-width="0.6"/>
<line x1="499.31" y1="184.7" x2="499.31" y2="325.5" stroke="#EBEBEB" stroke-width="0.6"/>
<line x1="540.99" y1="184.7" x2="540.99" y2="325.5" stroke="#EBEBEB" stroke-width="0.6"/>
<line x1="582.67" y1="184.7" x2="582.67" y2="325.5" stroke="#EBEBEB" stroke-width="0.6"/>
<line x1="624.35" y1="184.7" x2="624.35" y2="325.5" stroke="#EBEBEB" stroke-width="0.6"/>
<line x1="666.03" y1="184.7" x2="666.03" y2="325.5" stroke="#EBEBEB" stroke-width="0.6"/>
<line x1="446.8" y1="188.88" x2="685.2" y2="188.88" stroke="#EBEBEB" stroke-width="0.6"/>
<line x1="446.8" y1="195.85" x2="685.2" y2="195.85" stroke="#EBEBEB" stroke-width="0.6"/>
<line x1="446.8" y1="202.82" x2="685.2" y2="202.82" stroke="#EBEBEB" stroke-width="0.6"/>
<line x1="446.8" y1="209.79" x2="685.2" y2="209.79" stroke="#EBEBEB" stroke-width="0.6"/>
<line x1="446.8" y1="216.76" x2="685.2" y2="216.76" stroke="#EBEBEB" stroke-width="0.6"/>
<line x1="446.8" y1="223.73" x2="685.2" y2="223.73" stroke="#EBEBEB" stroke-width="0.6"/>
<line x1="446.8" y1="230.7" x2="685.2" y2="230.7" stroke="#EBEBEB" stroke-width="0.6"/>
<line x1="446.8" y1="237.67" x2="685.2" y2="237.67" stroke="#EBEBEB" stroke-width="0.6"/>
<line x1="446.8" y1="244.64" x2="685.2" y2="244.64" stroke="#EBEBEB" stroke-width="0.6"/>
<line x1="446.8" y1="251.61" x2="685.2" y2="251.61" stroke="#EBEBEB" stroke-width="0.6"/>
<line x1="446.8" y1="258.59" x2="685.2" y2="258.59" stroke="#EBEBEB" stroke-width="0.6"/>
<line x1="446.8" y1="265.56" x2="685.2" y2="265.56" stroke="#EBEBEB" stroke-width="0.6"/>
<line x1="446.8" y1="272.53" x2="685.2" y2="272.53" stroke="#EBEBEB" stroke-width="0.6"/>
<line x1="446.8" y1="279.5" x2="685.2" y2="279.5" stroke="#EBEBEB" stroke-width="0.6"/>
<line x1="446.8" y1="286.47" x2="685.2" y2="286.47" stroke="#EBEBEB" stroke-width="0.6"/>
<line x1="446.8" y1="293.44" x2="685.2" y2="293.44" stroke="#EBEBEB" stroke-width="0.6"/>
<line x1="446.8" y1="300.41" x2="685.2" y2="300.41" stroke="#EBEBEB" stroke-width="0.6"/>
<line x1="446.8" y1="307.38" x2="685.2" y2="307.38" stroke="#EBEBEB" stroke-width="0.6"/>
<line x1="446.8" y1="314.35" x2="685.2" y2="314.35" stroke="#EBEBEB" stroke-width="0.6"/>
<line x1="446.8" y1="321.32" x2="685.2" y2="321.32" stroke="#EBEBEB" stroke-width="0.6"/>
<rect x="457.64" y="185.75" width="208.98" height="6.27" fill="#E7B280" fill-opacity="0.9"/>
<rect x="457.64" y="192.72" width="108.86" height="6.27" fill="#C77C7D" fill-opacity="0.9"/>
<rect x="457.64" y="199.69" width="59.93" height="6.27" fill="#4BBCE1" fill-opacity="0.9"/>
<rect x="457.64" y="206.66" width="51.6" height="6.27" fill="#E7B280" fill-opacity="0.9"/>
<rect x="457.64" y="213.63" width="47.68" height="6.27" fill="#C77C7D" fill-opacity="0.9"/>
<rect x="457.64" y="220.6" width="45.6" height="6.27" fill="#4BBCE1" fill-opacity="0.9"/>
<rect x="457.64" y="227.57" width="43.68" height="6.27" fill="#E7B280" fill-opacity="0.9"/>
<rect x="457.64" y="234.54" width="42.26" height="6.27" fill="#E7B280" fill-opacity="0.9"/>
<rect x="457.64" y="241.51" width="40.51" height="6.27" fill="#4BBCE1" fill-opacity="0.9"/>
<rect x="457.64" y="248.48" width="39.09" height="6.27" fill="#4BBCE1" fill-opacity="0.9"/>
<rect x="457.64" y="255.45" width="37.51" height="6.27" fill="#C77C7D" fill-opacity="0.9"/>
<rect x="457.64" y="262.42" width="36.51" height="6.27" fill="#4BBCE1" fill-opacity="0.9"/>
<rect x="457.64" y="269.39" width="34.51" height="6.27" fill="#E7B280" fill-opacity="0.9"/>
<rect x="457.64" y="276.36" width="10.09" height="6.27" fill="#4BBCE1" fill-opacity="0.9"/>
<rect x="457.64" y="283.33" width="9.67" height="6.27" fill="#4BBCE1" fill-opacity="0.9"/>
<rect x="457.64" y="290.3" width="9.67" height="6.27" fill="#4BBCE1" fill-opacity="0.9"/>
<rect x="457.64" y="297.27" width="9.67" height="6.27" fill="#E7B280" fill-opacity="0.9"/>
<rect x="457.64" y="304.24" width="8.17" height="6.27" fill="#4BBCE1" fill-opacity="0.9"/>
<rect x="457.64" y="311.21" width="7.92" height="6.27" fill="#C77C7D" fill-opacity="0.9"/>
<rect x="457.64" y="318.18" width="7.5" height="6.27" fill="#E7B280" fill-opacity="0.9"/>
<line x1="663.94" y1="188.88" x2="668.53" y2="188.88" stroke="#222" stroke-width="0.6"/>
<line x1="561.33" y1="195.85" x2="571.25" y2="195.85" stroke="#222" stroke-width="0.6"/>
<line x1="515.4" y1="202.82" x2="519.74" y2="202.82" stroke="#222" stroke-width="0.6"/>
<line x1="505.32" y1="209.79" x2="513.99" y2="209.79" stroke="#222" stroke-width="0.6"/>
<line x1="502.48" y1="216.76" x2="508.23" y2="216.76" stroke="#222" stroke-width="0.6"/>
<line x1="501.07" y1="223.73" x2="505.32" y2="223.73" stroke="#222" stroke-width="0.6"/>
<line x1="498.15" y1="230.7" x2="504.32" y2="230.7" stroke="#222" stroke-width="0.6"/>
<line x1="493.15" y1="237.67" x2="507.82" y2="237.67" stroke="#222" stroke-width="0.6"/>
<line x1="495.31" y1="244.64" x2="500.31" y2="244.64" stroke="#222" stroke-width="0.6"/>
<line x1="495.73" y1="251.61" x2="497.48" y2="251.61" stroke="#222" stroke-width="0.6"/>
<line x1="493.15" y1="258.59" x2="497.15" y2="258.59" stroke="#222" stroke-width="0.6"/>
<line x1="490.98" y1="265.56" x2="496.31" y2="265.56" stroke="#222" stroke-width="0.6"/>
<line x1="485.23" y1="272.53" x2="498.15" y2="272.53" stroke="#222" stroke-width="0.6"/>
<line x1="463.72" y1="279.5" x2="471.31" y2="279.5" stroke="#222" stroke-width="0.6"/>
<line x1="465.14" y1="286.47" x2="469.47" y2="286.47" stroke="#222" stroke-width="0.6"/>
<line x1="461.97" y1="293.44" x2="473.31" y2="293.44" stroke="#222" stroke-width="0.6"/>
<line x1="465.81" y1="300.41" x2="468.97" y2="300.41" stroke="#222" stroke-width="0.6"/>
<line x1="463.97" y1="307.38" x2="468.31" y2="307.38" stroke="#222" stroke-width="0.6"/>
<line x1="457.89" y1="314.35" x2="472.31" y2="314.35" stroke="#222" stroke-width="0.6"/>
<line x1="464.14" y1="321.32" x2="465.81" y2="321.32" stroke="#222" stroke-width="0.6"/>
<line x1="446.5" y1="184.95" x2="685.7" y2="184.95" stroke="#9A9A9A" stroke-width="1"/>
<line x1="685.2" y1="184.45" x2="685.2" y2="325.95" stroke="#707070" stroke-width="1"/>
<line x1="447" y1="184.45" x2="447" y2="325.95" stroke="#646464" stroke-width="1"/>
<line x1="446.5" y1="325.45" x2="685.7" y2="325.45" stroke="#4E4E4E" stroke-width="1"/>
<line x1="444.8" y1="188.88" x2="446.8" y2="188.88" stroke="#333333" stroke-width="1"/>
<text x="443.6" y="191.08" text-anchor="end" font-size="5.4" fill="#363636">Particulate matter pollution</text>
<line x1="444.8" y1="195.85" x2="446.8" y2="195.85" stroke="#333333" stroke-width="1"/>
<text x="443.6" y="198.05" text-anchor="end" font-size="5.4" fill="#363636">High systolic blood pressure</text>
<line x1="444.8" y1="202.82" x2="446.8" y2="202.82" stroke="#333333" stroke-width="1"/>
<text x="443.6" y="205.02" text-anchor="end" font-size="5.4" fill="#363636">Unsafe sex</text>
<line x1="444.8" y1="209.79" x2="446.8" y2="209.79" stroke="#333333" stroke-width="1"/>
<text x="443.6" y="211.99" text-anchor="end" font-size="5.4" fill="#363636">Unsafe water source</text>
<line x1="444.8" y1="216.76" x2="446.8" y2="216.76" stroke="#333333" stroke-width="1"/>
<text x="443.6" y="218.96" text-anchor="end" font-size="5.4" fill="#363636">High fasting plasma glucose</text>
<line x1="444.8" y1="223.73" x2="446.8" y2="223.73" stroke="#333333" stroke-width="1"/>
<text x="443.6" y="225.93" text-anchor="end" font-size="5.4" fill="#363636">Child growth failure</text>
<line x1="444.8" y1="230.7" x2="446.8" y2="230.7" stroke="#333333" stroke-width="1"/>
<text x="443.6" y="232.9" text-anchor="end" font-size="5.4" fill="#363636">Unsafe sanitation</text>
<line x1="444.8" y1="237.67" x2="446.8" y2="237.67" stroke="#333333" stroke-width="1"/>
<text x="443.6" y="239.87" text-anchor="end" font-size="5.4" fill="#363636">No access to handwashing facility</text>
<line x1="444.8" y1="244.64" x2="446.8" y2="244.64" stroke="#333333" stroke-width="1"/>
<text x="443.6" y="246.84" text-anchor="end" font-size="5.4" fill="#363636">Diet low in vegetables</text>
<line x1="444.8" y1="251.61" x2="446.8" y2="251.61" stroke="#333333" stroke-width="1"/>
<text x="443.6" y="253.81" text-anchor="end" font-size="5.4" fill="#363636">Low birth weight and short gestation</text>
<line x1="444.8" y1="258.59" x2="446.8" y2="258.59" stroke="#333333" stroke-width="1"/>
<text x="443.6" y="260.79" text-anchor="end" font-size="5.4" fill="#363636">Kidney dysfunction</text>
<line x1="444.8" y1="265.56" x2="446.8" y2="265.56" stroke="#333333" stroke-width="1"/>
<text x="443.6" y="267.76" text-anchor="end" font-size="5.4" fill="#363636">Diet low in fruits</text>
<line x1="444.8" y1="272.53" x2="446.8" y2="272.53" stroke="#333333" stroke-width="1"/>
<text x="443.6" y="274.73" text-anchor="end" font-size="5.4" fill="#363636">Lead exposure</text>
<line x1="444.8" y1="279.5" x2="446.8" y2="279.5" stroke="#333333" stroke-width="1"/>
<text x="443.6" y="281.7" text-anchor="end" font-size="5.4" fill="#363636">High alcohol use</text>
<line x1="444.8" y1="286.47" x2="446.8" y2="286.47" stroke="#333333" stroke-width="1"/>
<text x="443.6" y="288.67" text-anchor="end" font-size="5.4" fill="#363636">Secondhand smoke</text>
<line x1="444.8" y1="293.44" x2="446.8" y2="293.44" stroke="#333333" stroke-width="1"/>
<text x="443.6" y="295.64" text-anchor="end" font-size="5.4" fill="#363636">Diet high in sodium</text>
<line x1="444.8" y1="300.41" x2="446.8" y2="300.41" stroke="#333333" stroke-width="1"/>
<text x="443.6" y="302.61" text-anchor="end" font-size="5.4" fill="#363636">High temperature</text>
<line x1="444.8" y1="307.38" x2="446.8" y2="307.38" stroke="#333333" stroke-width="1"/>
<text x="443.6" y="309.58" text-anchor="end" font-size="5.4" fill="#363636">Diet low in seafood omega−3 fatty acids</text>
<line x1="444.8" y1="314.35" x2="446.8" y2="314.35" stroke="#333333" stroke-width="1"/>
<text x="443.6" y="316.55" text-anchor="end" font-size="5.4" fill="#363636">High body−mass index</text>
<line x1="444.8" y1="321.32" x2="446.8" y2="321.32" stroke="#333333" stroke-width="1"/>
<text x="443.6" y="323.52" text-anchor="end" font-size="5.4" fill="#363636">Occupational injuries</text>
<line x1="457.64" y1="325.5" x2="457.64" y2="327.3" stroke="#333333" stroke-width="1"/>
<text x="457.64" y="332.5" text-anchor="middle" font-size="5.4" fill="#4D4D4D">0</text>
<line x1="499.31" y1="325.5" x2="499.31" y2="327.3" stroke="#333333" stroke-width="1"/>
<text x="499.31" y="332.5" text-anchor="middle" font-size="5.4" fill="#4D4D4D">5</text>
<line x1="540.99" y1="325.5" x2="540.99" y2="327.3" stroke="#333333" stroke-width="1"/>
<text x="540.99" y="332.5" text-anchor="middle" font-size="5.4" fill="#4D4D4D">10</text>
<line x1="582.67" y1="325.5" x2="582.67" y2="327.3" stroke="#333333" stroke-width="1"/>
<text x="582.67" y="332.5" text-anchor="middle" font-size="5.4" fill="#4D4D4D">15</text>
<line x1="624.35" y1="325.5" x2="624.35" y2="327.3" stroke="#333333" stroke-width="1"/>
<text x="624.35" y="332.5" text-anchor="middle" font-size="5.4" fill="#4D4D4D">20</text>
<line x1="666.03" y1="325.5" x2="666.03" y2="327.3" stroke="#333333" stroke-width="1"/>
<text x="666.03" y="332.5" text-anchor="middle" font-size="5.4" fill="#4D4D4D">25</text>
<text x="566" y="340.4" text-anchor="middle" font-size="6.65" fill="#000">Contribution to SIAM (%)</text>
<text x="446.9" y="179.8" font-size="7.7" fill="#000">d. 2019</text>
<line x1="130.04" y1="358.8" x2="130.04" y2="499.8" stroke="#EBEBEB" stroke-width="0.3"/>
<line x1="171.66" y1="358.8" x2="171.66" y2="499.8" stroke="#EBEBEB" stroke-width="0.3"/>
<line x1="213.29" y1="358.8" x2="213.29" y2="499.8" stroke="#EBEBEB" stroke-width="0.3"/>
<line x1="254.91" y1="358.8" x2="254.91" y2="499.8" stroke="#EBEBEB" stroke-width="0.3"/>
<line x1="296.54" y1="358.8" x2="296.54" y2="499.8" stroke="#EBEBEB" stroke-width="0.3"/>
<line x1="109.22" y1="358.8" x2="109.22" y2="499.8" stroke="#EBEBEB" stroke-width="0.6"/>
<line x1="150.85" y1="358.8" x2="150.85" y2="499.8" stroke="#EBEBEB" stroke-width="0.6"/>
<line x1="192.47" y1="358.8" x2="192.47" y2="499.8" stroke="#EBEBEB" stroke-width="0.6"/>
<line x1="234.1" y1="358.8" x2="234.1" y2="499.8" stroke="#EBEBEB" stroke-width="0.6"/>
<line x1="275.73" y1="358.8" x2="275.73" y2="499.8" stroke="#EBEBEB" stroke-width="0.6"/>
<line x1="317.35" y1="358.8" x2="317.35" y2="499.8" stroke="#EBEBEB" stroke-width="0.6"/>
<line x1="98.4" y1="362.99" x2="336.5" y2="362.99" stroke="#EBEBEB" stroke-width="0.6"/>
<line x1="98.4" y1="369.97" x2="336.5" y2="369.97" stroke="#EBEBEB" stroke-width="0.6"/>
<line x1="98.4" y1="376.95" x2="336.5" y2="376.95" stroke="#EBEBEB" stroke-width="0.6"/>
<line x1="98.4" y1="383.93" x2="336.5" y2="383.93" stroke="#EBEBEB" stroke-width="0.6"/>
<line x1="98.4" y1="390.91" x2="336.5" y2="390.91" stroke="#EBEBEB" stroke-width="0.6"/>
<line x1="98.4" y1="397.89" x2="336.5" y2="397.89" stroke="#EBEBEB" stroke-width="0.6"/>
<line x1="98.4" y1="404.87" x2="336.5" y2="404.87" stroke="#EBEBEB" stroke-width="0.6"/>
<line x1="98.4" y1="411.85" x2="336.5" y2="411.85" stroke="#EBEBEB" stroke-width="0.6"/>
<line x1="98.4" y1="418.83" x2="336.5" y2="418.83" stroke="#EBEBEB" stroke-width="0.6"/>
<line x1="98.4" y1="425.81" x2="336.5" y2="425.81" stroke="#EBEBEB" stroke-width="0.6"/>
<line x1="98.4" y1="432.79" x2="336.5" y2="432.79" stroke="#EBEBEB" stroke-width="0.6"/>
<line x1="98.4" y1="439.77" x2="336.5" y2="439.77" stroke="#EBEBEB" stroke-width="0.6"/>
<line x1="98.4" y1="446.75" x2="336.5" y2="446.75" stroke="#EBEBEB" stroke-width="0.6"/>
<line x1="98.4" y1="453.73" x2="336.5" y2="453.73" stroke="#EBEBEB" stroke-width="0.6"/>
<line x1="98.4" y1="460.71" x2="336.5" y2="460.71" stroke="#EBEBEB" stroke-width="0.6"/>
<line x1="98.4" y1="467.69" x2="336.5" y2="467.69" stroke="#EBEBEB" stroke-width="0.6"/>
<line x1="98.4" y1="474.67" x2="336.5" y2="474.67" stroke="#EBEBEB" stroke-width="0.6"/>
<line x1="98.4" y1="481.65" x2="336.5" y2="481.65" stroke="#EBEBEB" stroke-width="0.6"/>
<line x1="98.4" y1="488.63" x2="336.5" y2="488.63" stroke="#EBEBEB" stroke-width="0.6"/>
<line x1="98.4" y1="495.61" x2="336.5" y2="495.61" stroke="#EBEBEB" stroke-width="0.6"/>
<rect x="109.22" y="359.85" width="149.52" height="6.28" fill="#E7B280" fill-opacity="0.9"/>
<rect x="109.22" y="366.83" width="82.42" height="6.28" fill="#C77C7D" fill-opacity="0.9"/>
<rect x="109.22" y="373.81" width="38.46" height="6.28" fill="#4BBCE1" fill-opacity="0.9"/>
<rect x="109.22" y="380.79" width="36.55" height="6.28" fill="#C77C7D" fill-opacity="0.9"/>
<rect x="109.22" y="387.77" width="34.97" height="6.28" fill="#E7B280" fill-opacity="0.9"/>
<rect x="109.22" y="394.75" width="29.72" height="6.28" fill="#E7B280" fill-opacity="0.9"/>
<rect x="109.22" y="401.73" width="29.72" height="6.28" fill="#4BBCE1" fill-opacity="0.9"/>
<rect x="109.22" y="408.71" width="28.72" height="6.28" fill="#C77C7D" fill-opacity="0.9"/>
<rect x="109.22" y="415.69" width="28.39" height="6.28" fill="#4BBCE1" fill-opacity="0.9"/>
<rect x="109.22" y="422.67" width="27.72" height="6.28" fill="#E7B280" fill-opacity="0.9"/>
<rect x="109.22" y="429.65" width="26.97" height="6.28" fill="#4BBCE1" fill-opacity="0.9"/>
<rect x="109.22" y="436.63" width="26.64" height="6.28" fill="#4BBCE1" fill-opacity="0.9"/>
<rect x="109.22" y="443.61" width="24.81" height="6.28" fill="#E7B280" fill-opacity="0.9"/>
<rect x="109.22" y="450.59" width="7.83" height="6.28" fill="#C77C7D" fill-opacity="0.9"/>
<rect x="109.22" y="457.57" width="7.58" height="6.28" fill="#4BBCE1" fill-opacity="0.9"/>
<rect x="109.22" y="464.55" width="7.58" height="6.28" fill="#4BBCE1" fill-opacity="0.9"/>
<rect x="109.22" y="471.53" width="7.24" height="6.28" fill="#E7B280" fill-opacity="0.9"/>
<rect x="109.22" y="478.51" width="6.74" height="6.28" fill="#4BBCE1" fill-opacity="0.9"/>
<rect x="109.22" y="485.49" width="6.33" height="6.28" fill="#4BBCE1" fill-opacity="0.9"/>
<rect x="109.22" y="492.47" width="5.41" height="6.28" fill="#E7B280" fill-opacity="0.9"/>
<line x1="256.08" y1="362.99" x2="260.07" y2="362.99" stroke="#222" stroke-width="0.6"/>
<line x1="187.15" y1="369.97" x2="194.97" y2="369.97" stroke="#222" stroke-width="0.6"/>
<line x1="145.77" y1="376.95" x2="148.93" y2="376.95" stroke="#222" stroke-width="0.6"/>
<line x1="143.19" y1="383.93" x2="148.43" y2="383.93" stroke="#222" stroke-width="0.6"/>
<line x1="140.53" y1="390.91" x2="147.69" y2="390.91" stroke="#222" stroke-width="0.6"/>
<line x1="135.78" y1="397.89" x2="141.61" y2="397.89" stroke="#222" stroke-width="0.6"/>
<line x1="136.36" y1="404.87" x2="141.11" y2="404.87" stroke="#222" stroke-width="0.6"/>
<line x1="135.78" y1="411.85" x2="139.78" y2="411.85" stroke="#222" stroke-width="0.6"/>
<line x1="135.45" y1="418.83" x2="139.78" y2="418.83" stroke="#222" stroke-width="0.6"/>
<line x1="132.03" y1="425.81" x2="142.86" y2="425.81" stroke="#222" stroke-width="0.6"/>
<line x1="135.45" y1="432.79" x2="136.95" y2="432.79" stroke="#222" stroke-width="0.6"/>
<line x1="133.87" y1="439.77" x2="137.78" y2="439.77" stroke="#222" stroke-width="0.6"/>
<line x1="129.2" y1="446.75" x2="138.94" y2="446.75" stroke="#222" stroke-width="0.6"/>
<line x1="111.05" y1="453.73" x2="122.21" y2="453.73" stroke="#222" stroke-width="0.6"/>
<line x1="113.97" y1="460.71" x2="119.88" y2="460.71" stroke="#222" stroke-width="0.6"/>
<line x1="112.89" y1="467.69" x2="121.13" y2="467.69" stroke="#222" stroke-width="0.6"/>
<line x1="115.22" y1="474.67" x2="117.88" y2="474.67" stroke="#222" stroke-width="0.6"/>
<line x1="114.72" y1="481.65" x2="117.88" y2="481.65" stroke="#222" stroke-width="0.6"/>
<line x1="113.64" y1="488.63" x2="117.05" y2="488.63" stroke="#222" stroke-width="0.6"/>
<line x1="113.97" y1="495.61" x2="115.05" y2="495.61" stroke="#222" stroke-width="0.6"/>
<line x1="98" y1="359" x2="337" y2="359" stroke="#9A9A9A" stroke-width="1"/>
<line x1="336.5" y1="358.5" x2="336.5" y2="500.1" stroke="#707070" stroke-width="1"/>
<line x1="98.5" y1="358.5" x2="98.5" y2="500.1" stroke="#646464" stroke-width="1"/>
<line x1="98" y1="499.6" x2="337" y2="499.6" stroke="#4E4E4E" stroke-width="1"/>
<line x1="96.4" y1="362.99" x2="98.4" y2="362.99" stroke="#333333" stroke-width="1"/>
<text x="95.2" y="365.19" text-anchor="end" font-size="5.4" fill="#363636">Particulate matter pollution</text>
<line x1="96.4" y1="369.97" x2="98.4" y2="369.97" stroke="#333333" stroke-width="1"/>
<text x="95.2" y="372.17" text-anchor="end" font-size="5.4" fill="#363636">High systolic blood pressure</text>
<line x1="96.4" y1="376.95" x2="98.4" y2="376.95" stroke="#333333" stroke-width="1"/>
<text x="95.2" y="379.15" text-anchor="end" font-size="5.4" fill="#363636">Unsafe sex</text>
<line x1="96.4" y1="383.93" x2="98.4" y2="383.93" stroke="#333333" stroke-width="1"/>
<text x="95.2" y="386.13" text-anchor="end" font-size="5.4" fill="#363636">High fasting plasma glucose</text>
<line x1="96.4" y1="390.91" x2="98.4" y2="390.91" stroke="#333333" stroke-width="1"/>
<text x="95.2" y="393.11" text-anchor="end" font-size="5.4" fill="#363636">Unsafe water source</text>
<line x1="96.4" y1="397.89" x2="98.4" y2="397.89" stroke="#333333" stroke-width="1"/>
<text x="95.2" y="400.09" text-anchor="end" font-size="5.4" fill="#363636">Unsafe sanitation</text>
<line x1="96.4" y1="404.87" x2="98.4" y2="404.87" stroke="#333333" stroke-width="1"/>
<text x="95.2" y="407.07" text-anchor="end" font-size="5.4" fill="#363636">Diet low in vegetables</text>
<line x1="96.4" y1="411.85" x2="98.4" y2="411.85" stroke="#333333" stroke-width="1"/>
<text x="95.2" y="414.05" text-anchor="end" font-size="5.4" fill="#363636">Kidney dysfunction</text>
<line x1="96.4" y1="418.83" x2="98.4" y2="418.83" stroke="#333333" stroke-width="1"/>
<text x="95.2" y="421.03" text-anchor="end" font-size="5.4" fill="#363636">Child growth failure</text>
<line x1="96.4" y1="425.81" x2="98.4" y2="425.81" stroke="#333333" stroke-width="1"/>
<text x="95.2" y="428.01" text-anchor="end" font-size="5.4" fill="#363636">No access to handwashing facility</text>
<line x1="96.4" y1="432.79" x2="98.4" y2="432.79" stroke="#333333" stroke-width="1"/>
<text x="95.2" y="434.99" text-anchor="end" font-size="5.4" fill="#363636">Low birth weight and short gestation</text>
<line x1="96.4" y1="439.77" x2="98.4" y2="439.77" stroke="#333333" stroke-width="1"/>
<text x="95.2" y="441.97" text-anchor="end" font-size="5.4" fill="#363636">Diet low in fruits</text>
<line x1="96.4" y1="446.75" x2="98.4" y2="446.75" stroke="#333333" stroke-width="1"/>
<text x="95.2" y="448.95" text-anchor="end" font-size="5.4" fill="#363636">Lead exposure</text>
<line x1="96.4" y1="453.73" x2="98.4" y2="453.73" stroke="#333333" stroke-width="1"/>
<text x="95.2" y="455.93" text-anchor="end" font-size="5.4" fill="#363636">High body−mass index</text>
<line x1="96.4" y1="460.71" x2="98.4" y2="460.71" stroke="#333333" stroke-width="1"/>
<text x="95.2" y="462.91" text-anchor="end" font-size="5.4" fill="#363636">High alcohol use</text>
<line x1="96.4" y1="467.69" x2="98.4" y2="467.69" stroke="#333333" stroke-width="1"/>
<text x="95.2" y="469.89" text-anchor="end" font-size="5.4" fill="#363636">Diet high in sodium</text>
<line x1="96.4" y1="474.67" x2="98.4" y2="474.67" stroke="#333333" stroke-width="1"/>
<text x="95.2" y="476.87" text-anchor="end" font-size="5.4" fill="#363636">High temperature</text>
<line x1="96.4" y1="481.65" x2="98.4" y2="481.65" stroke="#333333" stroke-width="1"/>
<text x="95.2" y="483.85" text-anchor="end" font-size="5.4" fill="#363636">Secondhand smoke</text>
<line x1="96.4" y1="488.63" x2="98.4" y2="488.63" stroke="#333333" stroke-width="1"/>
<text x="95.2" y="490.83" text-anchor="end" font-size="5.4" fill="#363636">Diet low in seafood omega−3 fatty acids</text>
<line x1="96.4" y1="495.61" x2="98.4" y2="495.61" stroke="#333333" stroke-width="1"/>
<text x="95.2" y="497.81" text-anchor="end" font-size="5.4" fill="#363636">Occupational injuries</text>
<line x1="109.22" y1="499.8" x2="109.22" y2="501.6" stroke="#333333" stroke-width="1"/>
<text x="109.22" y="506.8" text-anchor="middle" font-size="5.4" fill="#4D4D4D">0</text>
<line x1="150.85" y1="499.8" x2="150.85" y2="501.6" stroke="#333333" stroke-width="1"/>
<text x="150.85" y="506.8" text-anchor="middle" font-size="5.4" fill="#4D4D4D">5</text>
<line x1="192.47" y1="499.8" x2="192.47" y2="501.6" stroke="#333333" stroke-width="1"/>
<text x="192.47" y="506.8" text-anchor="middle" font-size="5.4" fill="#4D4D4D">10</text>
<line x1="234.1" y1="499.8" x2="234.1" y2="501.6" stroke="#333333" stroke-width="1"/>
<text x="234.1" y="506.8" text-anchor="middle" font-size="5.4" fill="#4D4D4D">15</text>
<line x1="275.73" y1="499.8" x2="275.73" y2="501.6" stroke="#333333" stroke-width="1"/>
<text x="275.73" y="506.8" text-anchor="middle" font-size="5.4" fill="#4D4D4D">20</text>
<line x1="317.35" y1="499.8" x2="317.35" y2="501.6" stroke="#333333" stroke-width="1"/>
<text x="317.35" y="506.8" text-anchor="middle" font-size="5.4" fill="#4D4D4D">25</text>
<text x="217.45" y="514.7" text-anchor="middle" font-size="6.65" fill="#000">Contribution to SIAM (%)</text>
<text x="98.5" y="353.9" font-size="7.7" fill="#000">e. 2021</text>
<rect x="208" y="433.5" width="10" height="9.3" fill="#E7B280" fill-opacity="0.9"/>
<text x="221.0" y="440.25" font-size="5.55" fill="#000">Environmental/occupational risks</text>
<rect x="208" y="443.8" width="10" height="9.3" fill="#4BBCE1" fill-opacity="0.9"/>
<text x="221.0" y="450.55" font-size="5.55" fill="#000">Behavioral risks</text>
<rect x="208" y="454.1" width="10" height="9.3" fill="#C77C7D" fill-opacity="0.9"/>
<text x="221.0" y="460.85" font-size="5.55" fill="#000">Metabolic risks</text>
</svg>
</body></html>
